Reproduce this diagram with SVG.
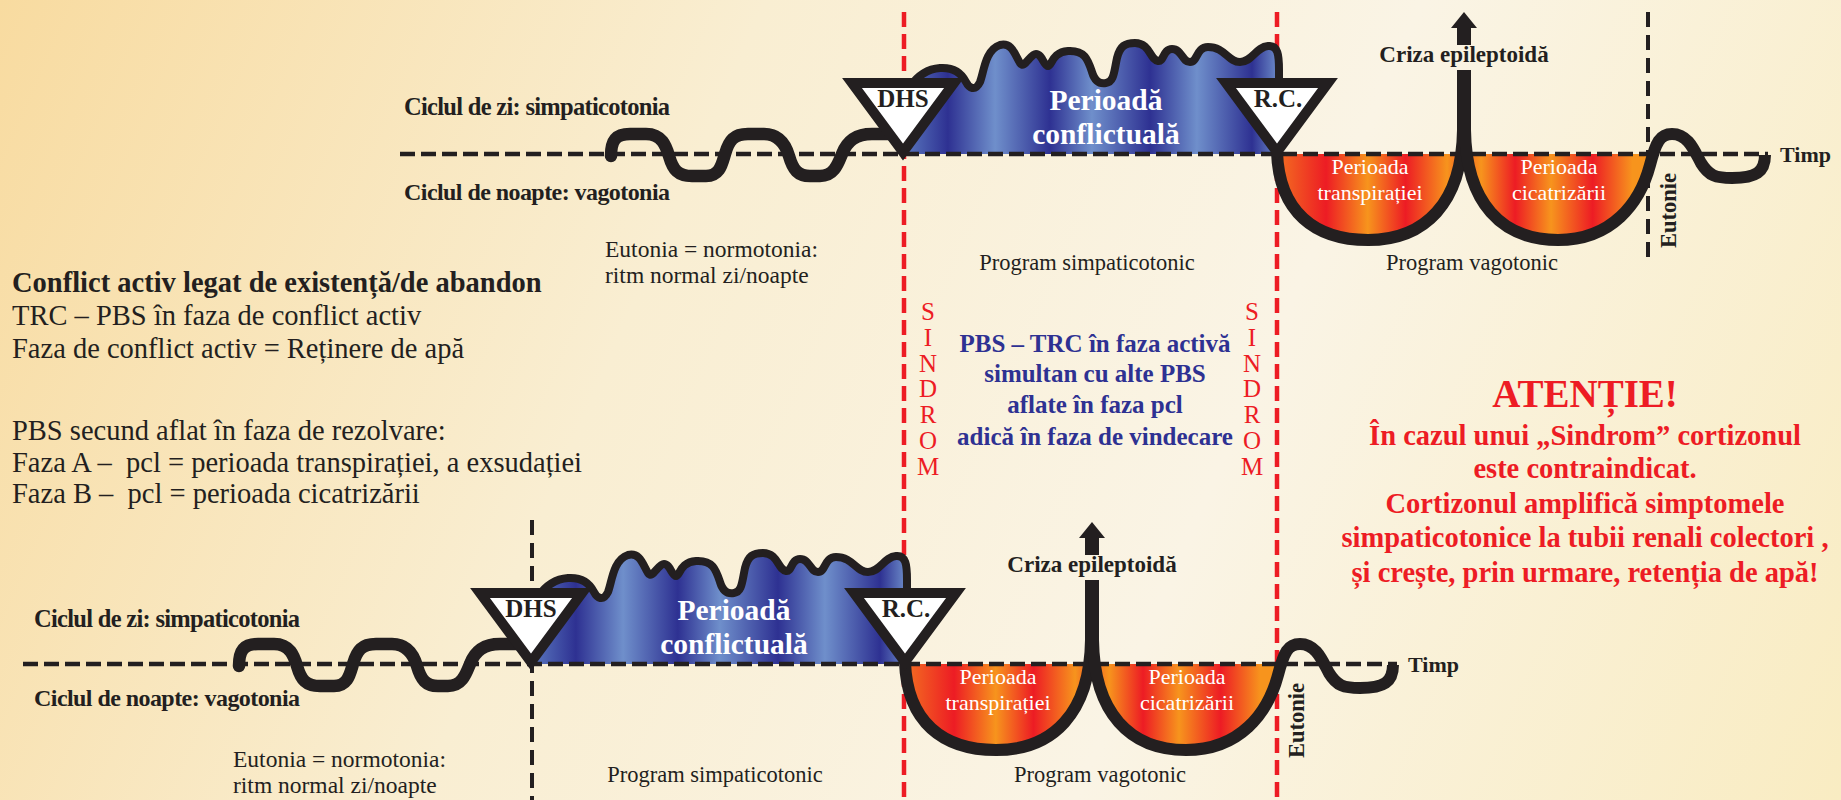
<svg xmlns="http://www.w3.org/2000/svg" width="1841" height="800" viewBox="0 0 1841 800">
<defs>
<linearGradient id="bg" gradientUnits="userSpaceOnUse" x1="0" y1="0" x2="1841" y2="800">
<stop offset="0" stop-color="#f8dba0"/>
<stop offset="0.35" stop-color="#f9eed2"/>
<stop offset="0.65" stop-color="#faf4e5"/>
<stop offset="1" stop-color="#f9ecc2"/>
</linearGradient>
<linearGradient id="blue" gradientUnits="userSpaceOnUse" x1="904" y1="0" x2="1279" y2="0">
<stop offset="0" stop-color="#5a78bf"/>
<stop offset="0.117" stop-color="#2e3192"/>
<stop offset="0.243" stop-color="#6f8fcb"/>
<stop offset="0.389" stop-color="#2e3192"/>
<stop offset="0.501" stop-color="#6f8fcb"/>
<stop offset="0.656" stop-color="#2e3192"/>
<stop offset="0.781" stop-color="#6f8fcb"/>
<stop offset="0.928" stop-color="#2e3192"/>
<stop offset="1" stop-color="#6f8fcb"/>
</linearGradient>
<linearGradient id="fire" gradientUnits="userSpaceOnUse" x1="1277" y1="0" x2="1655" y2="0">
<stop offset="0" stop-color="#f37021"/>
<stop offset="0.13" stop-color="#ed1c24"/>
<stop offset="0.24" stop-color="#f7941d"/>
<stop offset="0.34" stop-color="#ed1c24"/>
<stop offset="0.45" stop-color="#f7941d"/>
<stop offset="0.49" stop-color="#f15a24"/>
<stop offset="0.54" stop-color="#f7941d"/>
<stop offset="0.63" stop-color="#ed1c24"/>
<stop offset="0.725" stop-color="#f7941d"/>
<stop offset="0.835" stop-color="#ed1c24"/>
<stop offset="0.94" stop-color="#f7941d"/>
<stop offset="1" stop-color="#f7941d"/>
</linearGradient>
<style>
.t{font-family:"Liberation Serif","Times New Roman",serif;fill:#231f20}
.b{font-weight:bold}
.w{fill:#ffffff}
.red{fill:#ed1c24}
.blu{fill:#2e3192}
.mid{text-anchor:middle}
.base{stroke:#231f20;stroke-width:4.5;stroke-dasharray:15 6;fill:none}
.vdash{stroke:#231f20;stroke-width:4;stroke-dasharray:15 8;fill:none}
.rdash{stroke:#ed1c24;stroke-width:4.5;stroke-dasharray:15 7;fill:none}
.wave{stroke:#231f20;stroke-width:12.5;fill:none;stroke-linecap:round;stroke-linejoin:round}
.outline{stroke:#231f20;stroke-width:8;fill:none;stroke-linejoin:round}
.bowl{stroke:#231f20;stroke-width:12;fill:none}
.tri{fill:#ffffff;stroke:#231f20;stroke-width:10;stroke-linejoin:miter}
.ink{fill:#231f20}
.sd{font-size:25px}
.bt{font-size:22px}
.pc{font-size:29.5px}
</style>
</defs>
<rect x="0" y="0" width="1841" height="800" fill="url(#bg)"/>

<g id="connectors">
<line class="rdash" x1="904" y1="12" x2="904" y2="800"/>
<line class="rdash" x1="1277" y1="12" x2="1277" y2="800"/>
<line class="vdash" x1="1648" y1="12" x2="1648" y2="262"/>
<line class="vdash" x1="532" y1="520" x2="532" y2="800"/>
</g>

<g id="top-graph">
<g id="top-conflict">
<path fill="url(#blue)" d="M 904 154 L 895 130 C 900 95 915 70 940 68 C 955 67 962 74 966 82 C 969 88 975 92 980 82 C 984 72 985 50 1000 45 C 1012 42 1015 55 1020 63 C 1024 70 1030 54 1036 54 C 1042 54 1044 66 1048 66 C 1052 66 1052 52 1068 51 C 1085 50 1088 60 1092 72 C 1095 82 1100 84 1106 83 C 1114 82 1114 72 1117 58 C 1120 46 1125 43 1135 43 C 1150 43 1150 60 1158 61 C 1164 62 1163 49 1172 49 C 1182 49 1182 62 1190 62 C 1198 62 1196 47 1208 47 C 1225 47 1228 62 1240 62 C 1252 62 1256 47 1268 46 C 1278 45 1279 55 1279 70 L 1279 154 Z"/>
<path class="outline" d="M 895 130 C 900 95 915 70 940 68 C 955 67 962 74 966 82 C 969 88 975 92 980 82 C 984 72 985 50 1000 45 C 1012 42 1015 55 1020 63 C 1024 70 1030 54 1036 54 C 1042 54 1044 66 1048 66 C 1052 66 1052 52 1068 51 C 1085 50 1088 60 1092 72 C 1095 82 1100 84 1106 83 C 1114 82 1114 72 1117 58 C 1120 46 1125 43 1135 43 C 1150 43 1150 60 1158 61 C 1164 62 1163 49 1172 49 C 1182 49 1182 62 1190 62 C 1198 62 1196 47 1208 47 C 1225 47 1228 62 1240 62 C 1252 62 1256 47 1268 46 C 1278 45 1279 55 1279 70 L 1279 100"/>
<text class="t b w mid pc" x="1106" y="110">Perioadă</text>
<text class="t b w mid pc" x="1106" y="144">conflictuală</text>
</g>
<g id="top-bowls">
<path fill="url(#fire)" d="M 1277 154 C 1279 212 1315 240 1368 240 C 1425 240 1462 203 1463 130 L 1465 130 C 1466 203 1502 240 1558 240 C 1612 240 1640 203 1650 165 L 1653 154 Z"/>
</g>
<line class="base" x1="400" y1="154" x2="1768" y2="154"/>
<path id="top-wave" class="wave" d="M 611 156 C 611 140 616 134 630 134 L 646 134 C 662 134 666 146 669 156 C 673 170 678 176 692 176 L 706 176 C 720 176 722 164 725 154 C 729 140 734 134 748 134 L 764 134 C 780 134 786 146 789 156 C 793 170 798 176 810 176 L 820 176 C 834 176 838 164 842 154 C 847 141 856 134 872 134 L 900 134"/>
<g id="top-curve">
<path class="bowl" d="M 1277 135 L 1277 152 C 1279 212 1315 240 1368 240 C 1425 240 1462 203 1463 130 L 1463 70"/>
<path class="bowl" d="M 1465 70 L 1465 130 C 1466 203 1502 240 1558 240 C 1612 240 1640 203 1650 165 C 1656 142 1660 134 1672 134 C 1688 134 1694 150 1701 163 C 1709 176 1716 178 1732 178 C 1756 178 1765 172 1765 155"/>
</g>
<g id="top-crisis">
<polygon class="ink" points="1451,28 1477,28 1464,12"/>
<rect class="ink" x="1457" y="27" width="14" height="18"/>
<text class="t b mid" x="1464" y="62" font-size="23">Criza epileptoidă</text>
</g>
<g id="top-dhs">
<path class="tri" d="M 852 83 L 954 83 L 903 152 Z"/>
<text class="t b mid" x="903" y="107" font-size="25">DHS</text>
</g>
<g id="top-rc">
<path class="tri" d="M 1226 83 L 1328 83 L 1277 152 Z"/>
<text class="t b mid" x="1278" y="107" font-size="25">R.C.</text>
</g>
<text class="t w mid bt" x="1370" y="174">Perioada</text>
<text class="t w mid bt" x="1370" y="200">transpirației</text>
<text class="t w mid bt" x="1559" y="174">Perioada</text>
<text class="t w mid bt" x="1559" y="200">cicatrizării</text>
<text class="t b" x="404" y="115" font-size="24.5" textLength="266">Ciclul de zi: simpaticotonia</text>
<text class="t b" x="404" y="200" font-size="24" textLength="266">Ciclul de noapte: vagotonia</text>
<text class="t b" x="1780" y="162" font-size="22">Timp</text>
<text class="t b" transform="translate(1676,248) rotate(-90)" font-size="22.5">Eutonie</text>
<text class="t" x="605" y="257" font-size="23.5">Eutonia = normotonia:</text>
<text class="t" x="605" y="283" font-size="23.5">ritm normal zi/noapte</text>
<text class="t mid" x="1087" y="270" font-size="22.5">Program simpaticotonic</text>
<text class="t mid" x="1472" y="270" font-size="22.5">Program vagotonic</text>
</g>

<g id="bottom-graph" transform="translate(-372,510)">
<g id="bottom-conflict">
<path fill="url(#blue)" d="M 904 154 L 895 130 C 900 95 915 70 940 68 C 955 67 962 74 966 82 C 969 88 975 92 980 82 C 984 72 985 50 1000 45 C 1012 42 1015 55 1020 63 C 1024 70 1030 54 1036 54 C 1042 54 1044 66 1048 66 C 1052 66 1052 52 1068 51 C 1085 50 1088 60 1092 72 C 1095 82 1100 84 1106 83 C 1114 82 1114 72 1117 58 C 1120 46 1125 43 1135 43 C 1150 43 1150 60 1158 61 C 1164 62 1163 49 1172 49 C 1182 49 1182 62 1190 62 C 1198 62 1196 47 1208 47 C 1225 47 1228 62 1240 62 C 1252 62 1256 47 1268 46 C 1278 45 1279 55 1279 70 L 1279 154 Z"/>
<path class="outline" d="M 895 130 C 900 95 915 70 940 68 C 955 67 962 74 966 82 C 969 88 975 92 980 82 C 984 72 985 50 1000 45 C 1012 42 1015 55 1020 63 C 1024 70 1030 54 1036 54 C 1042 54 1044 66 1048 66 C 1052 66 1052 52 1068 51 C 1085 50 1088 60 1092 72 C 1095 82 1100 84 1106 83 C 1114 82 1114 72 1117 58 C 1120 46 1125 43 1135 43 C 1150 43 1150 60 1158 61 C 1164 62 1163 49 1172 49 C 1182 49 1182 62 1190 62 C 1198 62 1196 47 1208 47 C 1225 47 1228 62 1240 62 C 1252 62 1256 47 1268 46 C 1278 45 1279 55 1279 70 L 1279 100"/>
<text class="t b w mid pc" x="1106" y="110">Perioadă</text>
<text class="t b w mid pc" x="1106" y="144">conflictuală</text>
</g>
<g id="bottom-bowls">
<path fill="url(#fire)" d="M 1277 154 C 1279 212 1315 240 1368 240 C 1425 240 1462 203 1463 130 L 1465 130 C 1466 203 1502 240 1558 240 C 1612 240 1640 203 1650 165 L 1653 154 Z"/>
</g>
<line class="base" x1="395" y1="154" x2="1769" y2="154"/>
<path id="bottom-wave" class="wave" d="M 611 156 C 611 140 616 134 630 134 L 646 134 C 662 134 666 146 669 156 C 673 170 678 176 692 176 L 706 176 C 720 176 722 164 725 154 C 729 140 734 134 748 134 L 764 134 C 780 134 786 146 789 156 C 793 170 798 176 810 176 L 820 176 C 834 176 838 164 842 154 C 847 141 856 134 872 134 L 900 134"/>
<g id="bottom-curve">
<path class="bowl" d="M 1277 135 L 1277 152 C 1279 212 1315 240 1368 240 C 1425 240 1462 203 1463 130 L 1463 70"/>
<path class="bowl" d="M 1465 70 L 1465 130 C 1466 203 1502 240 1558 240 C 1612 240 1640 203 1650 165 C 1656 142 1660 134 1672 134 C 1688 134 1694 150 1701 163 C 1709 176 1716 178 1732 178 C 1756 178 1765 172 1765 155"/>
</g>
<g id="bottom-crisis">
<polygon class="ink" points="1451,28 1477,28 1464,12"/>
<rect class="ink" x="1457" y="27" width="14" height="18"/>
<text class="t b mid" x="1464" y="62" font-size="23">Criza epileptoidă</text>
</g>
<g id="bottom-dhs">
<path class="tri" d="M 852 83 L 954 83 L 903 152 Z"/>
<text class="t b mid" x="903" y="107" font-size="25">DHS</text>
</g>
<g id="bottom-rc">
<path class="tri" d="M 1226 83 L 1328 83 L 1277 152 Z"/>
<text class="t b mid" x="1278" y="107" font-size="25">R.C.</text>
</g>
<text class="t w mid bt" x="1370" y="174">Perioada</text>
<text class="t w mid bt" x="1370" y="200">transpirației</text>
<text class="t w mid bt" x="1559" y="174">Perioada</text>
<text class="t w mid bt" x="1559" y="200">cicatrizării</text>
<text class="t b" x="406" y="117" font-size="24.5" textLength="266">Ciclul de zi: simpaticotonia</text>
<text class="t b" x="406" y="196" font-size="24" textLength="266">Ciclul de noapte: vagotonia</text>
<text class="t b" x="1780" y="162" font-size="22">Timp</text>
<text class="t b" transform="translate(1676,248) rotate(-90)" font-size="22.5">Eutonie</text>
<text class="t" x="605" y="257" font-size="23.5">Eutonia = normotonia:</text>
<text class="t" x="605" y="283" font-size="23.5">ritm normal zi/noapte</text>
<text class="t mid" x="1087" y="272" font-size="22.5">Program simpaticotonic</text>
<text class="t mid" x="1472" y="272" font-size="22.5">Program vagotonic</text>
</g>

<g id="legend">
<text class="t b" x="12" y="292" font-size="28.5">Conflict activ legat de existență/de abandon</text>
<text class="t" x="12" y="325" font-size="28.5">TRC – PBS în faza de conflict activ</text>
<text class="t" x="12" y="358" font-size="28.5">Faza de conflict activ = Reținere de apă</text>
<text class="t" x="12" y="440" font-size="28.5">PBS secund aflat în faza de rezolvare:</text>
<text class="t" x="12" y="472" font-size="28.5">Faza A –&#160; pcl = perioada transpirației, a exsudației</text>
<text class="t" x="12" y="503" font-size="28.5">Faza B –&#160; pcl = perioada cicatrizării</text>
</g>

<g id="sindrom-left">
<text class="t red mid sd" x="928" y="320">S</text>
<text class="t red mid sd" x="928" y="346">I</text>
<text class="t red mid sd" x="928" y="372">N</text>
<text class="t red mid sd" x="928" y="397">D</text>
<text class="t red mid sd" x="928" y="423">R</text>
<text class="t red mid sd" x="928" y="449">O</text>
<text class="t red mid sd" x="928" y="475">M</text>
</g>
<g id="sindrom-right">
<text class="t red mid sd" x="1252" y="320">S</text>
<text class="t red mid sd" x="1252" y="346">I</text>
<text class="t red mid sd" x="1252" y="372">N</text>
<text class="t red mid sd" x="1252" y="397">D</text>
<text class="t red mid sd" x="1252" y="423">R</text>
<text class="t red mid sd" x="1252" y="449">O</text>
<text class="t red mid sd" x="1252" y="475">M</text>
</g>

<g id="sindrom-note">
<text class="t b blu mid" x="1095" y="352" font-size="25">PBS – TRC în faza activă</text>
<text class="t b blu mid" x="1095" y="382" font-size="25">simultan cu alte PBS</text>
<text class="t b blu mid" x="1095" y="413" font-size="25">aflate în faza pcl</text>
<text class="t b blu mid" x="1095" y="445" font-size="25">adică în faza de vindecare</text>
</g>

<g id="warning">
<text class="t b red mid" x="1585" y="407" font-size="39">ATENȚIE!</text>
<text class="t b red mid" x="1585" y="445" font-size="28.5">În cazul unui „Sindrom” cortizonul</text>
<text class="t b red mid" x="1585" y="478" font-size="28.5">este contraindicat.</text>
<text class="t b red mid" x="1585" y="513" font-size="28.5">Cortizonul amplifică simptomele</text>
<text class="t b red mid" x="1585" y="547" font-size="28.5">simpaticotonice la tubii renali colectori ,</text>
<text class="t b red mid" x="1585" y="582" font-size="28.5">și crește, prin urmare, retenția de apă!</text>
</g>
</svg>
